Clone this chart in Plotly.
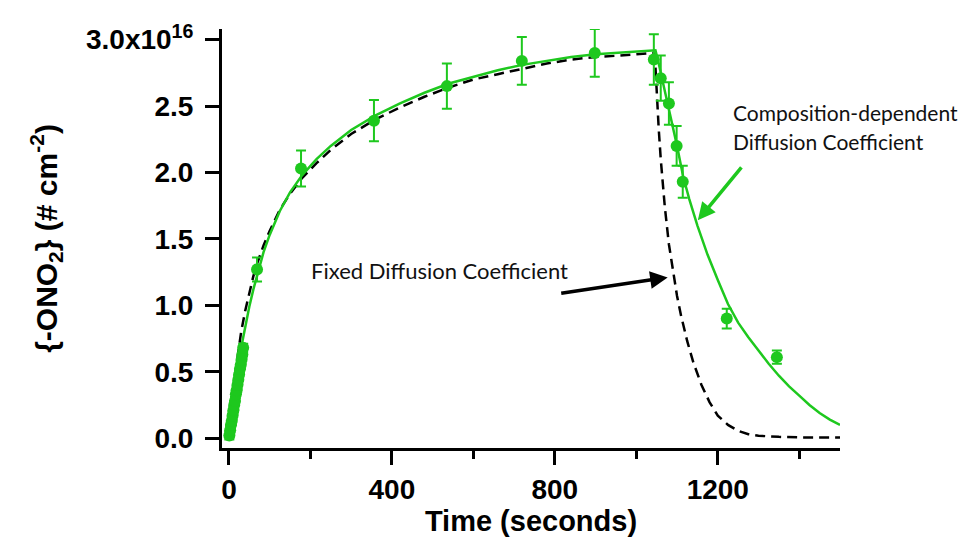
import plotly.graph_objects as go

# ---- data (values in units of 1e16 molecules cm^-2) ----
obs_t = [1, 3, 5, 7, 9, 11, 13, 15, 17, 19, 21, 23, 25, 27, 29, 31, 33, 35,
         69, 177, 356, 535, 719, 898, 1043, 1060, 1080, 1099, 1114, 1222, 1345]
obs_v = [0.02, 0.06, 0.10, 0.13, 0.17, 0.21, 0.25, 0.28, 0.33, 0.36, 0.40, 0.44,
         0.48, 0.52, 0.55, 0.59, 0.63, 0.68,
         1.27, 2.03, 2.39, 2.65, 2.84, 2.90, 2.85, 2.71, 2.52, 2.20, 1.93, 0.90, 0.61]
obs_err = [0.03] * 18 + [0.09, 0.135, 0.155, 0.17, 0.18, 0.18, 0.19, 0.17, 0.16,
                         0.15, 0.12, 0.075, 0.05]

comp_t = [0, 5, 10, 20, 30, 40, 50, 60, 71, 85, 100, 125, 150, 180, 215, 250, 300,
          360, 420, 480, 540, 600, 660, 720, 780, 840, 900, 960, 1000, 1047,
          1055, 1061, 1070, 1080, 1090, 1100, 1115, 1130, 1150, 1175, 1200, 1225,
          1250, 1275, 1300, 1325, 1350, 1375, 1400, 1425, 1450, 1475, 1500]
comp_v = [0.0, 0.13, 0.26, 0.50, 0.68, 0.85, 0.99, 1.12, 1.25, 1.40, 1.53, 1.71,
          1.85, 1.98, 2.10, 2.20, 2.32, 2.43, 2.52, 2.60, 2.67, 2.72, 2.77, 2.81,
          2.84, 2.87, 2.89, 2.90, 2.91, 2.92,
          2.82, 2.74, 2.62, 2.49, 2.34, 2.20, 1.97, 1.80, 1.60, 1.38, 1.19, 1.01,
          0.87, 0.76, 0.66, 0.56, 0.47, 0.39, 0.32, 0.25, 0.19, 0.14, 0.10]

fixed_t = [0, 5, 10, 20, 30, 40, 50, 60, 71, 85, 100, 125, 150, 180, 215, 250, 300,
           360, 420, 480, 540, 600, 660, 720, 780, 840, 900, 960, 1000, 1042,
           1046, 1050, 1055, 1060, 1070, 1080, 1090, 1100, 1110, 1125, 1140, 1160,
           1180, 1200, 1225, 1250, 1275, 1300, 1350, 1400, 1500]
fixed_v = [0.0, 0.20, 0.33, 0.58, 0.80, 0.96, 1.10, 1.22, 1.33, 1.45, 1.56, 1.72,
           1.84, 1.96, 2.07, 2.17, 2.29, 2.40, 2.49, 2.57, 2.64, 2.70, 2.74, 2.78,
           2.82, 2.85, 2.87, 2.88, 2.89, 2.90,
           2.85, 2.60, 2.33, 2.10, 1.74, 1.46, 1.25, 1.07, 0.92, 0.73, 0.57, 0.40,
           0.27, 0.17, 0.10, 0.055, 0.03, 0.018, 0.01, 0.006, 0.005]

y_tickvals = [0.0, 0.5, 1.0, 1.5, 2.0, 2.5, 3.0]
y_ticktext = ["0.0", "0.5", "1.0", "1.5", "2.0", "2.5", "3.0x10<sup>16</sup>"]
x_tickvals = [0, 400, 800, 1200]
x_ticktext = ["0", "400", "800", "1200"]
x_minor = [200, 600, 1000, 1400]

GREEN = "#1ec81e"
FONT = "Liberation Sans, Arial, sans-serif"

fig = go.Figure()
fig.add_trace(go.Scatter(x=fixed_t, y=fixed_v, mode="lines",
                         line=dict(color="black", width=2.5, dash="10px,6px"),
                         hoverinfo="skip"))
fig.add_trace(go.Scatter(x=comp_t, y=comp_v, mode="lines",
                         line=dict(color=GREEN, width=2.5), hoverinfo="skip"))
fig.add_trace(go.Scatter(x=obs_t, y=obs_v, mode="markers",
                         marker=dict(color=GREEN, size=12),
                         error_y=dict(type="data", array=obs_err, color=GREEN,
                                      thickness=2, width=5)))

axis_font = dict(family=FONT, size=28, color="black", weight="bold")

fig.update_layout(
    width=966, height=535,
    margin=dict(l=214, r=134, t=14, b=95),
    plot_bgcolor="white", paper_bgcolor="white",
    showlegend=False,
    xaxis=dict(range=[-17, 1500], showgrid=False, zeroline=False,
               showline=True, linecolor="black", linewidth=3,
               ticks="outside", ticklen=14, tickwidth=3, tickcolor="black",
               tickvals=x_tickvals, ticktext=x_ticktext, tickfont=axis_font,
               minor=dict(tickvals=x_minor, ticks="outside", ticklen=8,
                          tickwidth=3, tickcolor="black"),
               title=dict(text="Time (seconds)", font=dict(
                   family=FONT, size=29, color="black", weight="bold"),
                   standoff=0)),
    yaxis=dict(range=[-0.074, 3.08], showgrid=False, zeroline=False,
               showline=True, linecolor="black", linewidth=3,
               ticks="outside", ticklen=14, tickwidth=3, tickcolor="black",
               tickvals=y_tickvals, ticktext=y_ticktext, tickfont=axis_font,
               ticklabelstandoff=6,
               title=dict(text="{-ONO<sub>2</sub>} (# cm<sup>-2</sup>)", font=dict(
                   family=FONT, size=30, color="black", weight="bold"),
                   standoff=20)),
)

ann_font = dict(family="Lato, Calibri, sans-serif", size=22, color="#111111")
ann_font_r = dict(family="Lato, Calibri, sans-serif", size=21, color="#111111")
fig.add_annotation(x=518, y=1.26, text="Fixed Diffusion Coefficient",
                   showarrow=False, font=ann_font, xanchor="center")
fig.add_annotation(x=1233, y=2.45, text="Composition-dependent",
                   showarrow=False, font=ann_font_r, xanchor="left")
fig.add_annotation(x=1233, y=2.23, text="Diffusion Coefficient",
                   showarrow=False, font=ann_font_r, xanchor="left")
fig.add_annotation(x=1077, y=1.21, ax=812, ay=1.09, axref="x", ayref="y",
                   text="", showarrow=True, arrowhead=2, arrowsize=1,
                   arrowwidth=3.5, arrowcolor="black")
fig.add_annotation(x=1151, y=1.64, ax=1261, ay=2.05, axref="x", ayref="y",
                   text="", showarrow=True, arrowhead=2, arrowsize=1,
                   arrowwidth=3.5, arrowcolor=GREEN)

fig.write_html("out.html")
